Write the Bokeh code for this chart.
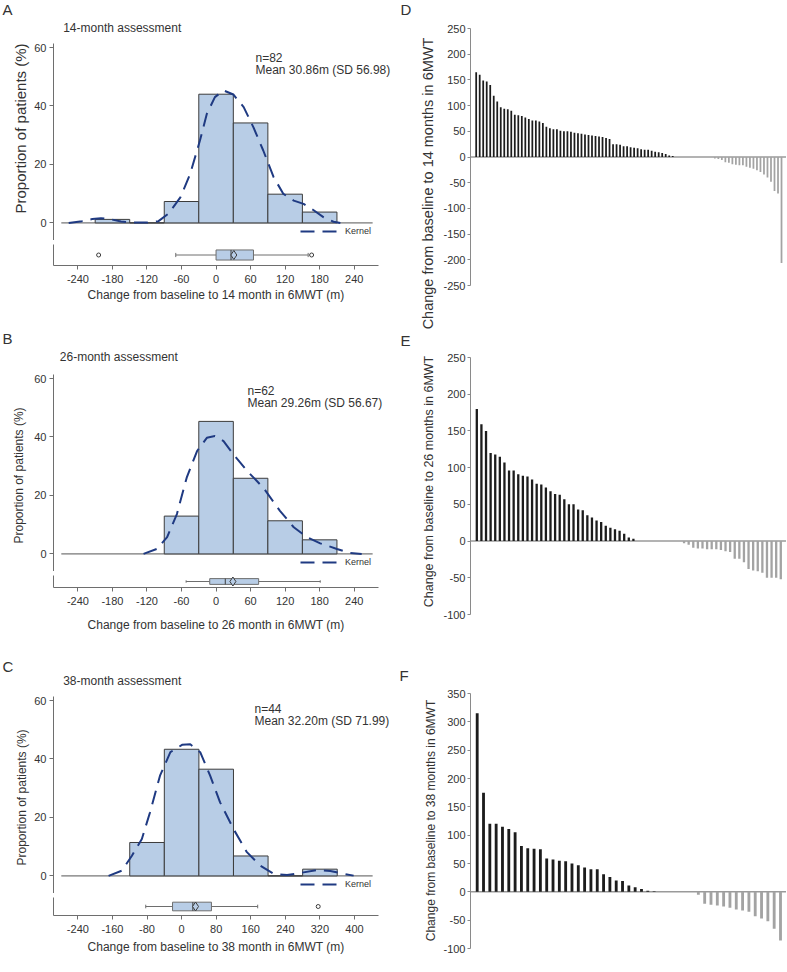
from bokeh.plotting import figure
from bokeh.layouts import row, column
from bokeh.models import Range1d, FixedTicker, Label, Legend, LegendItem, Span
from bokeh.embed import file_html
from bokeh.resources import INLINE

# ---------------- data ----------------
# Panel A: 14-month assessment
a_edges = [-210, -150, -90, -30, 30, 90, 150, 210]
a_pct = [1.2, 0.0, 7.3, 43.9, 34.1, 9.8, 3.7]
a_kde_x = [-256, -233, -215, -200, -185, -165, -143, -120, -100, -83, -62, -45, -28, -16, -2, 13, 30, 48, 65, 82, 100, 117, 135, 152, 169, 187, 204, 216]
a_kde_y = [0.0, 0.6, 1.3, 1.6, 1.3, 0.5, 0.1, 0.1, 0.6, 3.1, 8.7, 16.7, 28.1, 37.2, 42.9, 45.2, 43.8, 39.5, 32.6, 24.7, 15.6, 9.9, 7.6, 6.5, 4.4, 1.9, 0.4, 0.0]
a_box = [-70, 0, 26, 65, 160]          # whisker low, Q1, median, Q3, whisker high
a_mean = 30.86
a_sd = 56.98
a_n = 82
a_outliers = [-204, 166]
a_xticks = [-240, -180, -120, -60, 0, 60, 120, 180, 240]

# Panel B: 26-month assessment
b_edges = [-90, -30, 30, 90, 150, 210]
b_pct = [12.9, 45.2, 25.8, 11.3, 4.8]
b_kde_x = [-126, -103, -85, -68, -51, -33, -16, -2, 13, 30, 54, 82, 111, 135, 158, 181, 210, 233, 253]
b_kde_y = [0.0, 1.7, 5.7, 13.6, 26.0, 35.1, 39.6, 40.2, 38.5, 34.0, 28.3, 22.6, 14.7, 9.1, 5.7, 3.6, 1.7, 0.3, 0.0]
b_box = [-52, -11, 16, 74, 181]
b_mean = 29.26
b_sd = 56.67
b_n = 62
b_outliers = []
b_xticks = [-240, -180, -120, -60, 0, 60, 120, 180, 240]

# Panel C: 38-month assessment
c_edges = [-120, -40, 40, 120, 200, 280, 360]
c_pct = [11.4, 43.2, 36.4, 6.8, 0.0, 2.3]
c_kde_x = [-169, -138, -115, -92, -73, -50, -26, 1, 20, 43, 66, 89, 120, 151, 182, 213, 244, 274, 313, 344, 375, 398]
c_kde_y = [0.0, 1.8, 6.9, 12.6, 21.7, 34.2, 42.2, 44.7, 44.9, 42.2, 34.2, 25.1, 16.0, 8.1, 3.5, 0.7, 0.3, 1.0, 2.0, 1.7, 0.7, 0.1]
c_box = [-83, -21, 26, 69, 176]
c_mean = 32.20
c_sd = 71.99
c_n = 44
c_outliers = [316]
c_xticks = [-240, -160, -80, 0, 80, 160, 240, 320, 400]

# Waterfalls (sorted change per patient)
d_vals = [165, 160, 149, 147, 140, 119, 108, 97, 94, 93, 90, 82, 81, 80, 77, 74, 71, 71, 69, 66,
          59, 56, 54, 54, 51, 50, 50, 49, 47, 46, 45, 44, 43, 42, 41, 40, 39, 37, 35, 25,
          25, 24, 21, 21, 19, 18, 17, 15, 14, 14, 12, 10, 9, 8, 6, 3, 2,
          0, 0, 0, 0, 0, 0, 0, 0, 0, 0, 0,
          -3, -4, -6, -10, -11, -14, -15, -16, -16, -19, -21, -23, -26, -29, -34, -40, -48, -66, -71, -206]
e_vals = [180, 159, 150, 120, 118, 115, 107, 96, 96, 91, 89, 88, 84, 78, 77, 73, 68, 64, 63, 57,
          50, 50, 43, 42, 35, 32, 28, 26, 21, 18, 16, 14, 10, 5, 3,
          0, 0, 0, 0, 0, 0, 0, 0, 0, 0,
          -3, -5, -9, -10, -10, -11, -11, -11, -12, -14, -15, -24, -24, -29, -38, -40, -41, -43, -50, -50, -50, -52]
f_vals = [315, 175, 120, 120, 115, 111, 105, 81, 77, 76, 75, 59, 57, 55, 54, 50, 47, 43, 40, 40,
          31, 26, 20, 19, 11, 8, 5, 2, 1,
          0, 0, 0, 0, 0, 0,
          -5, -21, -23, -24, -26, -28, -31, -33, -35, -43, -47, -52, -65, -86]
d_yticks = [-250, -200, -150, -100, -50, 0, 50, 100, 150, 200, 250]
e_yticks = [-100, -50, 0, 50, 100, 150, 200, 250]
f_yticks = [-100, -50, 0, 50, 100, 150, 200, 250, 300, 350]

# ---------------- style ----------------
FONT = "Liberation Sans"
TXT = "#333333"
AX = "#6e6e6e"
FILL = "#b8cde6"
EDGE = "#3c3c3c"
NAVY = "#1f3a82"
POS = "#1c1c1c"
NEG = "#a3a3a3"
TOTAL_H = 956


def style_axis(ax, ticks, tick_out=4, standoff=3):
    ax.ticker = FixedTicker(ticks=ticks)
    ax.major_label_overrides = {t: str(t) for t in ticks}
    ax.axis_line_color = AX
    ax.axis_line_width = 1
    ax.major_tick_line_color = AX
    ax.major_tick_out = tick_out
    ax.major_tick_in = 0
    ax.minor_tick_line_color = None
    ax.major_label_text_font = FONT
    ax.major_label_text_font_size = "11px"
    ax.major_label_text_color = TXT
    ax.major_label_standoff = standoff


def lab(fig, text, x, y, size, align="left", baseline="middle", angle=0):
    fig.add_layout(Label(x=x, y=y, x_units="screen", y_units="screen", text=text,
                         text_font=FONT, text_font_size=size, text_color=TXT,
                         text_align=align, text_baseline=baseline,
                         angle=angle, angle_units="deg"))


def fig(**kw):
    f = figure(toolbar_location=None, output_backend="svg", title=None, frame_align=False, **kw)
    f.grid.visible = False
    f.outline_line_color = None
    return f


def blank(width, height):
    return fig(width=width, height=height, x_range=Range1d(0, 1), y_range=Range1d(0, 1),
               x_axis_location=None, y_axis_location=None,
               min_border_left=0, min_border_right=0, min_border_top=0, min_border_bottom=0)


LW, BL, BR, FH = 368, 23, 20, 197


def build_hist(subtitle, head_h, sub_x, sub_y, edges, pct, kx, ky, box, mean, sd, n, outl,
               xticks, xlabel, xr, box_bottom, xlab_standoff, stat_x, stat_y):
    head = blank(LW, head_h)
    lab(head, subtitle, sub_x, sub_y, "12px")

    fw = LW - BL - BR
    hxr = Range1d(xr.start, xr.end + BR * (xr.end - xr.start) / fw)
    h = fig(width=LW, height=FH, x_range=hxr, y_range=Range1d(-6.0, 61.2),
            x_axis_location=None, min_border_left=BL, min_border_right=0,
            min_border_top=0, min_border_bottom=0)
    style_axis(h.yaxis[0], [0, 20, 40, 60], 4, 3)
    span = xr.end - xr.start
    h.segment(x0=[xr.start + 0.024 * span], x1=[xr.end - 0.018 * span], y0=[0], y1=[0],
              line_color="#555555", line_width=1)
    h.quad(left=edges[:-1], right=edges[1:], bottom=0, top=pct,
           fill_color=FILL, line_color=EDGE, line_width=1)
    kr = h.line(kx, ky, line_color=NAVY, line_width=2, line_dash="14 8")
    leg = Legend(items=[LegendItem(label="Kernel", renderers=[kr])], location=(247, 2),
                 border_line_color=None, background_fill_alpha=0, padding=0, margin=0,
                 glyph_width=37, glyph_height=14, label_height=14, label_standoff=8,
                 label_text_font=FONT, label_text_font_size="9px", label_text_color=TXT,
                 spacing=0)
    h.add_layout(leg)
    lab(h, "n=%d" % n, stat_x, stat_y, "12px")
    lab(h, "Mean %.2fm (SD %.2f)" % (mean, sd), stat_x, stat_y - 12.5, "12px")

    b = fig(width=LW, height=4 + 21 + box_bottom, x_range=xr, y_range=Range1d(0, 1),
            min_border_left=BL, min_border_right=BR, min_border_top=4,
            min_border_bottom=box_bottom)
    style_axis(b.xaxis[0], xticks, 4, 5)
    style_axis(b.yaxis[0], [], 0, 0)
    b.xaxis[0].axis_label = xlabel
    b.xaxis[0].axis_label_text_font = FONT
    b.xaxis[0].axis_label_text_font_size = "12px"
    b.xaxis[0].axis_label_text_font_style = "normal"
    b.xaxis[0].axis_label_text_color = TXT
    b.xaxis[0].axis_label_standoff = xlab_standoff
    lo, q1, med, q3, hi = box
    b.segment(x0=[lo, q3], x1=[q1, hi], y0=[0.5, 0.5], y1=[0.5, 0.5], line_color=AX, line_width=1)
    b.segment(x0=[lo, hi], x1=[lo, hi], y0=[0.4, 0.4], y1=[0.6, 0.6], line_color=AX, line_width=1)
    b.quad(left=[q1], right=[q3], bottom=[0.26], top=[0.74], fill_color=FILL, line_color=AX, line_width=1)
    b.segment(x0=[med], x1=[med], y0=[0.26], y1=[0.74], line_color=EDGE, line_width=1)
    b.scatter(x=[mean], y=[0.5], marker="diamond", size=9, fill_color=FILL, line_color=EDGE, line_width=1)
    if outl:
        b.scatter(x=outl, y=[0.5] * len(outl), marker="circle", size=4,
                  fill_color="white", line_color=EDGE, line_width=1)
    return [head, h, b]


colA = build_hist("14-month assessment", 43, 32.7, 16, a_edges, a_pct, a_kde_x, a_kde_y, a_box,
                  a_mean, a_sd, a_n, a_outliers, a_xticks,
                  "Change from baseline to 14 month in 6MWT (m)", Range1d(-282.4, 282.2),
                  48, 2, 202, 183)
colB = build_hist("26-month assessment", 61, 29.3, 18, b_edges, b_pct, b_kde_x, b_kde_y, b_box,
                  b_mean, b_sd, b_n, b_outliers, b_xticks,
                  "Change from baseline to 26 month in 6MWT (m)", Range1d(-282.4, 282.2),
                  38, 10, 194, 181)
colC = build_hist("38-month assessment", 62, 32.7, 16, c_edges, c_pct, c_kde_x, c_kde_y, c_box,
                  c_mean, c_sd, c_n, c_outliers, c_xticks,
                  "Change from baseline to 38 month in 6MWT (m)", Range1d(-296.4, 455.5),
                  38, 4, 201, 185)

# left strip: panel letters and y-axis titles of A-C
stripL = blank(30, TOTAL_H)
lab(stripL, "A", 2, TOTAL_H - 9, "15px")
lab(stripL, "B", 2, TOTAL_H - 338, "15px")
lab(stripL, "C", 2, TOTAL_H - 666, "15px")
lab(stripL, "Proportion of patients (%)", 20, TOTAL_H - 213, "15px", angle=90)
lab(stripL, "Proportion of patients (%)", 18.5, TOTAL_H - 543, "12px", angle=90)
lab(stripL, "Proportion of patients (%)", 21.5, TOTAL_H - 865, "12px", angle=90)

RW, RBL = 346, 30


def waterfall(vals, yr, yticks, top, fh, bottom, xr, bar_w):
    p = fig(width=RW, height=top + fh + bottom, x_range=xr, y_range=yr,
            x_axis_location=None, min_border_left=RBL, min_border_right=0,
            min_border_top=top, min_border_bottom=bottom)
    style_axis(p.yaxis[0], yticks, 3, 2)
    p.yaxis[0].axis_line_color = "#8a8a8a"
    p.yaxis[0].major_tick_line_color = "#8a8a8a"
    p.add_layout(Span(location=0, dimension="width", line_color="#9a9a9a", line_width=1.5, level="underlay"))
    xs = list(range(1, len(vals) + 1))
    cols = [POS if v > 0 else NEG for v in vals]
    p.vbar(x=xs, top=vals, bottom=0, width=bar_w, fill_color=cols, line_color=None)
    return p


pD = waterfall(d_vals, Range1d(-250, 250), d_yticks, 28, 257, 45, Range1d(-0.62, 89.42), 0.5)
pE = waterfall(e_vals, Range1d(-100, 250), e_yticks, 27, 257, 46, Range1d(-0.37, 68.24), 0.5)
pF = waterfall(f_vals, Range1d(-100, 350), f_yticks, 33, 255, 8, Range1d(-0.06, 49.95), 0.45)

# strip between the columns: letters and y-axis titles of D-F
stripR = blank(42, TOTAL_H)
lab(stripR, "D", 2, TOTAL_H - 9, "15px")
lab(stripR, "E", 2, TOTAL_H - 340, "15px")
lab(stripR, "F", 1, TOTAL_H - 674.5, "15px")
lab(stripR, "Change from baseline to 14 months in 6MWT", 29.3, TOTAL_H - 183, "14.5px", align="center", angle=90)
lab(stripR, "Change from baseline to 26 months in 6MWT", 30, TOTAL_H - 481, "12.5px", align="center", angle=90)
lab(stripR, "Change from baseline to 38 months in 6MWT", 32, TOTAL_H - 820, "12px", align="center", angle=90)

layout = row(stripL, column(*(colA + colB + colC)), stripR, column(pD, pE, pF))
open("out.html", "w").write(file_html(layout, INLINE))
